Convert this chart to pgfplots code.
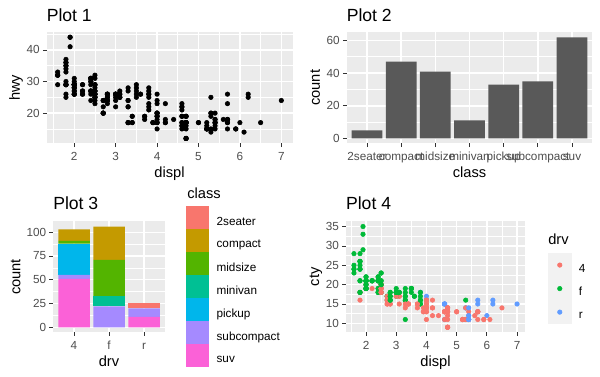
\documentclass[border=0pt]{standalone}
\usepackage{pgfplots}
\pgfplotsset{compat=1.18}
\usepackage{pgfplotstable}
\usepackage{fontspec}
\setmainfont{Liberation Sans}
\definecolor{ggbg}{HTML}{EBEBEB}
\definecolor{barc}{HTML}{595959}
\definecolor{tickc}{HTML}{333333}
\definecolor{ticklab}{HTML}{4D4D4D}
\definecolor{keybg}{HTML}{F2F2F2}
\definecolor{cA}{HTML}{F8766D}
\definecolor{cB}{HTML}{C49A00}
\definecolor{cC}{HTML}{53B400}
\definecolor{cD}{HTML}{00C094}
\definecolor{cE}{HTML}{00B6EB}
\definecolor{cF}{HTML}{A58AFF}
\definecolor{cG}{HTML}{FB61D7}
\definecolor{drvA}{HTML}{F8766D}
\definecolor{drvB}{HTML}{00BA38}
\definecolor{drvC}{HTML}{619CFF}

\pgfplotstableread{
displ cty hwy drv
1.8 18 29 f
1.8 21 29 f
2.0 20 31 f
2.0 21 30 f
2.8 16 26 f
2.8 18 26 f
3.1 18 27 f
1.8 18 26 4
1.8 16 25 4
2.0 20 28 4
2.0 19 27 4
2.8 15 25 4
2.8 17 25 4
3.1 17 25 4
3.1 15 25 4
2.8 15 24 4
3.1 17 25 4
4.2 16 23 4
5.3 14 20 r
5.3 11 15 r
5.3 14 20 r
5.7 13 17 r
6.0 12 17 r
5.7 16 26 r
5.7 15 23 r
6.2 16 26 r
6.2 15 25 r
7.0 15 24 r
5.3 14 19 4
5.3 11 14 4
5.7 11 15 4
6.5 14 17 4
2.4 19 27 f
2.4 22 30 f
3.1 18 26 f
3.5 18 29 f
3.6 17 26 f
2.4 18 24 f
3.0 17 24 f
3.3 16 22 f
3.3 16 22 f
3.3 17 24 f
3.3 17 24 f
3.3 11 17 f
3.8 15 22 f
3.8 15 21 f
3.8 16 23 f
4.0 16 23 f
3.7 15 19 4
3.7 14 18 4
3.9 13 17 4
3.9 14 17 4
4.7 14 19 4
4.7 14 19 4
4.7 9 12 4
5.2 11 17 4
5.2 11 15 4
3.9 13 17 4
4.7 13 17 4
4.7 9 12 4
4.7 13 17 4
5.2 11 16 4
5.2 11 15 4
5.7 13 18 4
5.9 11 15 4
4.7 12 16 4
4.7 9 12 4
4.7 13 17 4
4.7 13 17 4
5.2 11 15 4
5.2 11 15 4
5.7 13 17 4
5.9 11 15 4
4.6 11 17 r
5.4 11 17 r
5.4 12 18 r
4.0 14 17 4
4.0 15 19 4
4.0 14 17 4
4.0 13 19 4
4.6 13 19 4
5.0 13 17 4
4.2 14 17 4
4.2 14 17 4
4.6 13 16 4
4.6 13 16 4
4.6 13 17 4
5.4 11 15 4
5.4 13 17 4
3.8 18 26 r
3.8 18 25 r
4.0 17 26 r
4.0 16 24 r
4.6 15 21 r
4.6 15 22 r
4.6 15 23 r
4.6 15 22 r
5.4 14 20 r
1.6 28 33 f
1.6 24 32 f
1.6 25 32 f
1.6 23 29 f
1.6 24 32 f
1.8 26 34 f
1.8 25 36 f
1.8 24 36 f
2.0 21 29 f
2.4 18 26 f
2.4 18 27 f
2.4 21 30 f
2.4 21 31 f
2.5 18 26 f
2.5 18 26 f
3.3 19 28 f
2.0 19 26 f
2.0 19 29 f
2.0 20 28 f
2.0 20 27 f
2.7 17 24 f
2.7 16 24 f
2.7 17 24 f
3.0 17 22 4
3.7 15 19 4
4.0 15 20 4
4.7 14 17 4
4.7 9 12 4
4.7 14 19 4
5.7 13 18 4
6.1 11 14 4
4.0 11 15 4
4.2 12 18 4
4.4 12 18 4
4.6 11 15 4
5.4 11 17 r
5.4 11 16 r
5.4 12 18 r
4.0 14 17 4
4.0 13 19 4
4.6 13 19 4
5.0 13 17 4
2.4 21 29 f
2.4 19 27 f
2.5 23 31 f
2.5 23 32 f
3.5 19 27 f
3.5 19 26 f
3.0 18 26 f
3.0 19 25 f
3.5 19 25 f
3.3 14 17 4
3.3 15 17 4
4.0 14 20 4
5.6 12 18 4
3.1 18 26 f
3.8 16 26 f
3.8 17 27 f
3.8 18 28 f
5.3 16 25 f
2.5 18 25 4
2.5 18 24 4
2.5 20 27 4
2.5 19 25 4
2.5 20 26 4
2.5 18 23 4
2.2 21 26 4
2.2 19 26 4
2.5 19 26 4
2.5 19 26 4
2.5 20 27 4
2.5 20 25 4
2.5 19 25 4
2.5 20 27 4
2.7 15 20 4
2.7 16 20 4
3.4 15 19 4
3.4 15 17 4
4.0 16 20 4
4.7 14 17 4
2.2 21 29 f
2.2 21 27 f
2.4 21 31 f
2.4 21 31 f
3.0 18 26 f
3.0 18 26 f
3.5 19 28 f
2.2 21 27 f
2.2 21 29 f
2.4 21 31 f
2.4 22 31 f
3.0 18 26 f
3.0 18 26 f
3.3 18 27 f
1.8 24 30 f
1.8 24 33 f
1.8 26 35 f
1.8 28 37 f
1.8 26 35 f
4.7 11 15 4
5.7 13 18 4
2.7 15 20 4
2.7 16 20 4
2.7 17 22 4
3.4 15 17 4
3.4 15 19 4
4.0 15 18 4
4.0 16 20 4
2.0 21 29 f
2.0 19 26 f
2.0 22 29 f
2.0 21 29 f
2.8 17 24 f
1.9 33 44 f
2.0 21 29 f
2.0 19 26 f
2.0 22 29 f
2.0 21 29 f
2.5 21 29 f
2.5 21 29 f
2.8 16 23 f
2.8 17 24 f
1.9 35 44 f
1.9 29 41 f
2.0 21 29 f
2.0 19 26 f
2.5 20 28 f
2.5 20 29 f
1.8 21 29 f
1.8 18 29 f
1.8 18 29 f
2.0 19 28 f
2.0 21 29 f
2.8 16 26 f
2.8 18 26 f
3.6 17 26 f
}\mpg

\pgfplotsset{
  gg/.style={
    scale only axis,
    axis line style={draw=none},
    axis background/.style={fill=ggbg},
    grid=both,
    major grid style={white, line width=1.07pt},
    minor grid style={white, line width=0.53pt},
    tick align=outside,
    tick pos=left,
    major tick length=2.75pt,
    minor tick length=0pt,
    tick style={tickc, line width=0.53pt},
    tick label style={font=\fontsize{8.8}{10}\selectfont, text=ticklab},
    /pgf/number format/assume math mode=true,
    xticklabel style={anchor=base, inner sep=0pt, yshift=-10.25pt},
    yticklabel style={anchor=east, inner sep=0pt, xshift=-2.2pt},
    label style={font=\fontsize{11}{13}\selectfont, inner sep=0pt},
    xlabel style={at={([yshift=-25.8pt]axis description cs:0.5,0)}, anchor=base},
    ylabel style={at={([xshift=-20pt]axis description cs:0,0.5)}, anchor=base},
  },
  gglegend/.style={
    legend style={draw=none, fill=none, inner sep=0pt, outer sep=0pt, row sep=0pt,
      font=\fontsize{8.8}{10}\selectfont, nodes={inner sep=0pt},
      /tikz/every odd column/.append style={column sep=5.5pt}},
    legend cell align=left,
  },
}

\begin{document}
\begin{tikzpicture}
\path[use as bounding box] (0,0) rectangle (450pt,282.75pt);

% Plot 1
\begin{axis}[gg, at={(34.875pt,175.125pt)}, anchor=south west,
  width=184.5pt, height=83.475pt,
  xmin=1.33, xmax=7.27, ymin=10.4, ymax=45.6,
  xtick={2,3,4,5,6,7}, minor xtick={1.5,2.5,3.5,4.5,5.5,6.5},
  ytick={20,30,40}, minor ytick={15,25,35,45},
  xlabel={displ}, ylabel={hwy}]
\addplot[only marks, mark=*, mark size=1.7pt, black] table[x=displ, y=hwy] {\mpg};
\end{axis}

% Plot 2
\begin{axis}[gg, at={(259.875pt,175.125pt)}, anchor=south west,
  width=184.5pt, height=83.475pt,
  xmin=0.4, xmax=7.6, ymin=-3.1, ymax=65.1,
  xtick={1,2,3,4,5,6,7},
  xticklabels={2seater,compact,midsize,minivan,pickup,subcompact,suv},
  ytick={0,20,40,60}, minor ytick={10,30,50},
  xlabel={class}, ylabel={count}]
\addplot[ybar, bar width=0.9, bar shift=0pt, fill=barc, draw=none]
  coordinates {(1,5) (2,47) (3,41) (4,11) (5,33) (6,35) (7,62)};
\end{axis}

% Plot 3
\begin{axis}[gg, gglegend, at={(39.75pt,33.525pt)}, anchor=south west,
  width=84pt, height=83.1pt,
  xmin=0.4, xmax=3.6, ymin=-5.3, ymax=111.3,
  xtick={1,2,3}, xticklabels={4,f,r},
  ytick={0,25,50,75,100}, minor ytick={12.5,37.5,62.5,87.5},
  ylabel style={at={([xshift=-24.4pt]axis description cs:0,0.5)}},
  xlabel={drv}, ylabel={count},
  ybar stacked, bar width=0.9,
  legend style={at={(axis description cs:1.190,1.1354)}, anchor=north west},
  reverse legend,
  legend image code/.code={
    \path (0pt,-5.525pt) rectangle (17.25pt,11.725pt);
    \fill[#1,draw=none] (0.2pt,-4.65pt) rectangle (17.05pt,10.85pt);
  }]
\addplot[fill=cG, draw=none] coordinates {(1,51) (2,0) (3,11)};
\addlegendentry{suv}
\addplot[fill=cF, draw=none] coordinates {(1,4) (2,22) (3,9)};
\addlegendentry{subcompact}
\addplot[fill=cE, draw=none] coordinates {(1,33) (2,0) (3,0)};
\addlegendentry{pickup}
\addplot[fill=cD, draw=none] coordinates {(1,0) (2,11) (3,0)};
\addlegendentry{minivan}
\addplot[fill=cC, draw=none] coordinates {(1,3) (2,38) (3,0)};
\addlegendentry{midsize}
\addplot[fill=cB, draw=none] coordinates {(1,12) (2,35) (3,0)};
\addlegendentry{compact}
\addplot[fill=cA, draw=none] coordinates {(1,0) (2,0) (3,5)};
\addlegendentry{2seater}
\end{axis}

% Plot 4
\begin{axis}[gg, gglegend, at={(259.35pt,33.525pt)}, anchor=south west,
  width=134.55pt, height=83.1pt,
  xmin=1.33, xmax=7.27, ymin=7.7, ymax=36.3,
  xtick={2,3,4,5,6,7}, minor xtick={1.5,2.5,3.5,4.5,5.5,6.5},
  ytick={10,15,20,25,30,35}, minor ytick={12.5,17.5,22.5,27.5,32.5},
  xlabel={displ}, ylabel={cty},
  legend style={at={(axis description cs:1.1271,0.7130)}, anchor=north west},
  legend image code/.code={
    \fill[keybg] (0pt,-5.525pt) rectangle (17.25pt,11.725pt);
    \draw[mark repeat=2, mark phase=2, #1] plot coordinates {(0pt,3.1pt) (8.625pt,3.1pt) (17.25pt,3.1pt)};
  }]
\addplot[scatter, only marks, scatter src=explicit symbolic, mark=*, mark size=1.7pt,
  scatter/classes={4={mark=*,drvA}, f={mark=*,drvB}, r={mark=*,drvC}}, forget plot]
  table[x=displ, y=cty, meta=drv] {\mpg};
\addlegendimage{only marks, mark=*, mark size=1.7pt, drvA}
\addlegendentry{4}
\addlegendimage{only marks, mark=*, mark size=1.7pt, drvB}
\addlegendentry{f}
\addlegendimage{only marks, mark=*, mark size=1.7pt, drvC}
\addlegendentry{r}
\end{axis}

\node[anchor=base west, inner sep=0pt, font=\fontsize{13.2}{15}\selectfont] at (34.875pt,266.5pt) {Plot 1};
\node[anchor=base west, inner sep=0pt, font=\fontsize{13.2}{15}\selectfont] at (259.875pt,266.5pt) {Plot 2};
\node[anchor=base west, inner sep=0pt, font=\fontsize{13.2}{15}\selectfont] at (39.75pt,125.5pt) {Plot 3};
\node[anchor=base west, inner sep=0pt, font=\fontsize{13.2}{15}\selectfont] at (259.35pt,125.5pt) {Plot 4};
\node[anchor=base west, inner sep=0pt, font=\fontsize{11}{13}\selectfont] at (140.25pt,134pt) {class};
\node[anchor=base west, inner sep=0pt, font=\fontsize{11}{13}\selectfont] at (411pt,99pt) {drv};
\end{tikzpicture}
\end{document}
